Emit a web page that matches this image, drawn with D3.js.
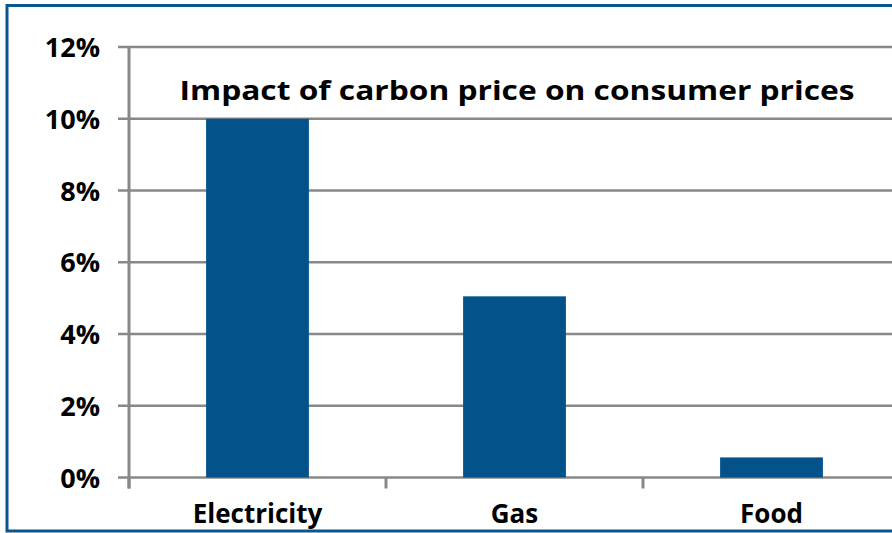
<!DOCTYPE html>
<html>
<head>
<meta charset="utf-8">
<script src="https://cdn.jsdelivr.net/npm/d3@7"></script>
<style>
  html, body { margin: 0; padding: 0; background: #fff; }
  svg { display: block; }
  text { font-family: "Open Sans", Lato, sans-serif; font-weight: 700; fill: #000; }
</style>
</head>
<body>
<svg id="chart" width="892" height="533"></svg>
<script>
// Consumer price impact of the carbon price, by category (percent)
const categories = ["Electricity", "Gas", "Food"];
const values = [10, 5.05, 0.56];
const yTicks = [0, 2, 4, 6, 8, 10, 12];
const title = "Impact of carbon price on consumer prices";

const svg = d3.select("#chart");
const W = 892, H = 533;
const margin = { left: 129, right: -8, top: 47, bottom: 56 };

const x = d3.scaleBand()
  .domain(categories)
  .range([margin.left, W - margin.right])
  .paddingInner(0.6)
  .paddingOuter(0.3);

const y = d3.scaleLinear()
  .domain([0, 12])
  .range([H - margin.bottom + 0.5, margin.top]);

const gridColor = "#888888";
const barColor = "#03528A";

// frame
svg.append("rect")
  .attr("x", 7).attr("y", 5.5)
  .attr("width", W + 10).attr("height", 525.5)
  .attr("fill", "none").attr("stroke", "#0A568F").attr("stroke-width", 3);

// horizontal gridlines
svg.append("g")
  .selectAll("line")
  .data(yTicks)
  .join("line")
  .attr("x1", 118).attr("x2", W)
  .attr("y1", d => y(d)).attr("y2", d => y(d))
  .attr("stroke", gridColor).attr("stroke-width", 2.6);

// bars
svg.append("g")
  .selectAll("rect")
  .data(categories)
  .join("rect")
  .attr("x", d => x(d))
  .attr("width", x.bandwidth())
  .attr("y", (d, i) => y(values[i]))
  .attr("height", (d, i) => y(0) - y(values[i]))
  .attr("fill", barColor);

// category boundary ticks below the baseline
const bounds = categories.map((c, i) => margin.left + i * (W - margin.right - margin.left) / categories.length);
svg.append("g")
  .selectAll("line")
  .data(bounds)
  .join("line")
  .attr("x1", d => d).attr("x2", d => d)
  .attr("y1", y(0)).attr("y2", y(0) + 11)
  .attr("stroke", gridColor).attr("stroke-width", 3);

// vertical axis line
svg.append("line")
  .attr("x1", margin.left).attr("x2", margin.left)
  .attr("y1", y(12) - 1).attr("y2", y(0) + 11)
  .attr("stroke", gridColor).attr("stroke-width", 3);

// y tick labels
svg.append("g")
  .selectAll("text")
  .data(yTicks)
  .join("text")
  .attr("x", 100)
  .attr("y", d => y(d) + 10)
  .attr("text-anchor", "end")
  .attr("font-size", 27)
  .text(d => d + "%");

// category labels
svg.append("g")
  .selectAll("text")
  .data(categories)
  .join("text")
  .attr("x", d => x(d) + x.bandwidth() / 2)
  .attr("y", 523)
  .attr("text-anchor", "middle")
  .attr("font-size", 26)
  .text(d => d);

// title
svg.append("text")
  .attr("x", 517)
  .attr("y", 100)
  .attr("text-anchor", "middle")
  .attr("font-size", 27)
  .attr("textLength", 675)
  .attr("lengthAdjust", "spacingAndGlyphs")
  .text(title);
</script>
</body>
</html>
